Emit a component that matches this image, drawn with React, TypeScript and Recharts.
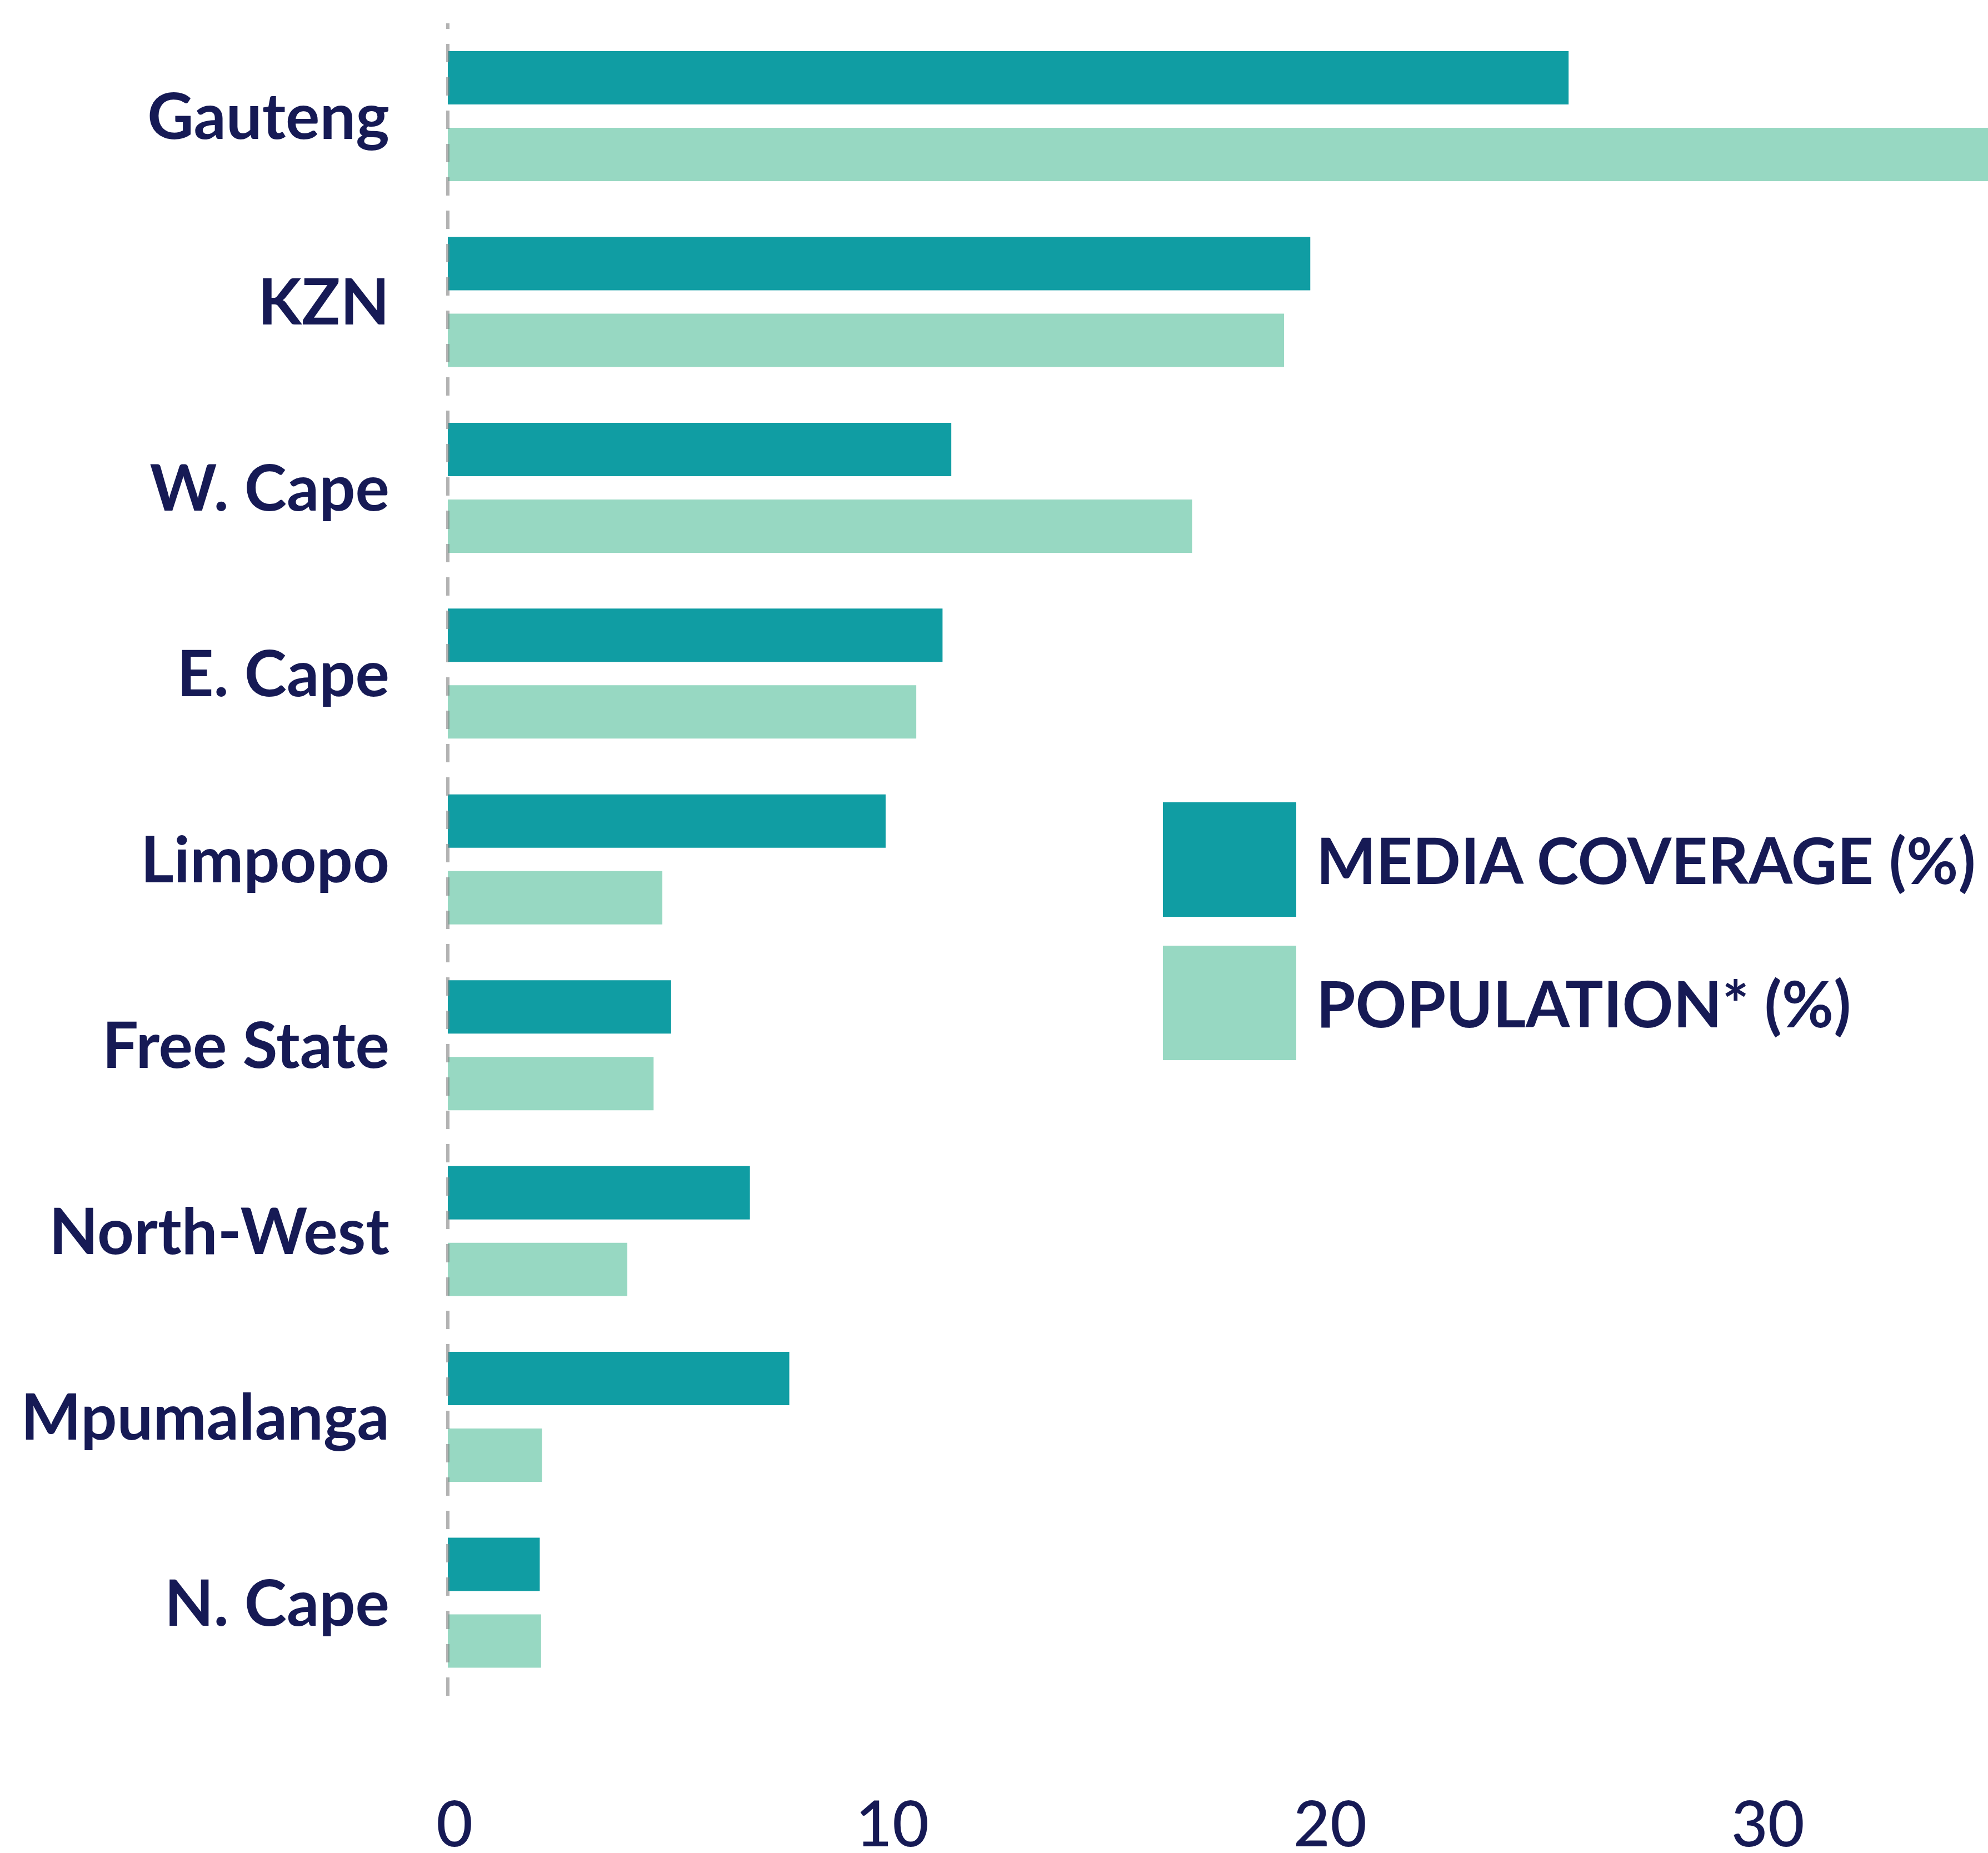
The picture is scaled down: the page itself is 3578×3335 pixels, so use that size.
import { BarChart, Bar, XAxis, YAxis, ReferenceLine } from 'recharts'

const provinces = ['Gauteng', 'KZN', 'W. Cape', 'E. Cape', 'Limpopo', 'Free State', 'North-West', 'Mpumalanga', 'N. Cape']
const mediaCoverage = [25.6, 19.7, 11.5, 11.3, 10.0, 5.1, 6.9, 7.8, 2.1]
const population = [36, 19.1, 17.0, 10.7, 4.9, 4.7, 4.1, 2.15, 2.13]
const xTicks = [0, 10, 20, 30]

const NAVY = '#161a55'
const TEAL = '#109da3'
const MINT = '#97d8c2'

const data = provinces.map((name, i) => ({
  name,
  media: mediaCoverage[i],
  population: population[i],
}))

const legendItems = [
  { label: 'MEDIA COVERAGE (%)', color: TEAL },
  { label: 'POPULATION* (%)', color: MINT },
]

// legend sits inside the plot, so keep it out of recharts' layout
function LegendBox() {
  return (
    <div style={{ position: 'absolute', left: 2093, top: 1444 }}>
      {legendItems.map((it, i) => (
        <div key={it.label} style={{ display: 'flex', alignItems: 'center', marginTop: i ? 52 : 0 }}>
          <div style={{ width: 240, height: 206, background: it.color }} />
          <span style={{
            marginLeft: 36, fontFamily: 'Lato', fontWeight: 700, fontSize: 114,
            color: NAVY, whiteSpace: 'nowrap', lineHeight: 1,
          }}>
            {it.label}
          </span>
        </div>
      ))}
    </div>
  )
}

export default function App() {
  return (
    <div style={{ position: 'absolute', left: 0, top: 0, width: 3578, height: 3335, background: '#fff' }}>
      <BarChart
        width={3578}
        height={3335}
        data={data}
        layout="vertical"
        margin={{ top: 42, right: 0, bottom: 0, left: 0 }}
        barSize={96}
        barGap={42}
      >
        <XAxis
          type="number"
          domain={[0, 35.18]}
          allowDataOverflow
          ticks={xTicks}
          axisLine={false}
          tickLine={false}
          tickSize={0}
          tickMargin={190}
          height={283}
          tick={{ fill: NAVY, fontSize: 114, fontFamily: 'Lato', fontWeight: 500, dx: 12 }}
        />
        <YAxis
          type="category"
          dataKey="name"
          width={806}
          axisLine={false}
          tickLine={false}
          tickSize={0}
          tickMargin={105}
          interval={0}
          tick={{ fill: NAVY, fontSize: 115, fontFamily: 'Lato', fontWeight: 700 }}
        />
        <Bar dataKey="media" fill={TEAL} isAnimationActive={false} />
        <Bar dataKey="population" fill={MINT} isAnimationActive={false} />
        <ReferenceLine x={0} stroke="#808080" strokeOpacity={0.6} strokeWidth={6} strokeDasharray="33 27" />
      </BarChart>
      <LegendBox />
    </div>
  )
}
